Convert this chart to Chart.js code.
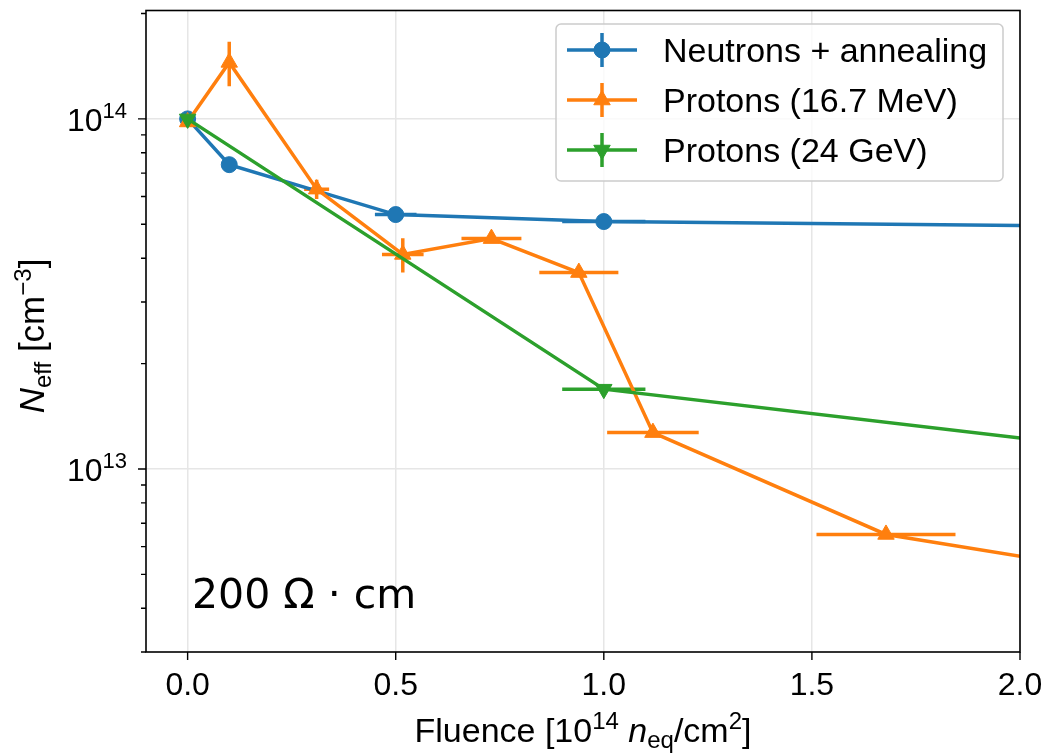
<!DOCTYPE html>
<html>
<head>
<meta charset="utf-8">
<script src="https://cdn.jsdelivr.net/npm/chart.js@4.4.1/dist/chart.umd.min.js"></script>
<style>
  html, body { margin: 0; padding: 0; background: #fff; }
  #wrap { width: 1048px; height: 753px; position: relative; }
</style>
</head>
<body>
<div id="wrap"><canvas id="chart"></canvas></div>
<script>
// values (x in 1e14 neq/cm2, y in cm^-3)
// last point of each series lies beyond x = 2.0 so the line runs out of the frame
const neutronX    = [0, 0.1, 0.5, 1.0, 4.0];
const neutronY    = [1.0e14, 7.4e13, 5.33e13, 5.09e13, 4.7e13];
const neutronXErr = [0, 0, 0.05, 0.1, 0];
const neutronYErr = [0, 0, 0, 0, 0];

const p17X    = [0, 0.1, 0.31, 0.517, 0.73, 0.94, 1.118, 1.678, 2.5];
const p17Y    = [9.8e13, 1.45e14, 6.3e13, 4.1e13, 4.55e13, 3.64e13, 1.27e13, 6.5e12, 4.5e12];
const p17XErr = [0, 0, 0.03, 0.05, 0.072, 0.095, 0.11, 0.167, 0];
const p17YErr = [0, 2.1e13, 4e12, 4.6e12, 0, 0, 0, 0, 0];

const p24X    = [0, 1.0, 3.0];
const p24Y    = [1.0e14, 1.69e13, 8.9e12];
const p24XErr = [0, 0.1, 0];
const p24YErr = [0, 0, 0];

const xTicks = [0, 0.5, 1.0, 1.5, 2.0];
const xTickLabels = ['0.0', '0.5', '1.0', '1.5', '2.0'];
const yMajor = [1e13, 1e14];
const yMajorExp = ['13', '14'];
const yMinor = [3e12, 4e12, 5e12, 6e12, 7e12, 8e12, 9e12,
                2e13, 3e13, 4e13, 5e13, 6e13, 7e13, 8e13, 9e13, 2e14];

const BLUE = '#1f77b4', ORANGE = '#ff7f0e', GREEN = '#2ca02c';
const FONT = '"Liberation Sans", Arial, sans-serif';
const GRID = '#e6e6e6';
const LW = 3.5;

function pts(xs, ys) { return xs.map((x, i) => ({ x: x, y: ys[i] })); }

const series = [
  { label: 'Neutrons + annealing', x: neutronX, y: neutronY, xe: neutronXErr, ye: neutronYErr,
    color: BLUE, style: 'circle', radius: 8, rot: 0, order: 3 },
  { label: 'Protons (16.7 MeV)', x: p17X, y: p17Y, xe: p17XErr, ye: p17YErr,
    color: ORANGE, style: 'triangle', radius: 9.5, rot: 0, order: 2 },
  { label: 'Protons (24 GeV)', x: p24X, y: p24Y, xe: p24XErr, ye: p24YErr,
    color: GREEN, style: 'triangle', radius: 9.5, rot: 180, order: 1 }
];

function rich(ctx, parts, x, y, align) {
  // parts: [text, size, italic, dy]
  let w = 0;
  parts.forEach(p => {
    ctx.font = (p[2] ? 'italic ' : '') + p[1] + 'px ' + FONT;
    w += ctx.measureText(p[0]).width;
  });
  let cx = align === 'center' ? x - w / 2 : (align === 'right' ? x - w : x);
  ctx.textAlign = 'left';
  ctx.textBaseline = 'alphabetic';
  parts.forEach(p => {
    ctx.font = (p[2] ? 'italic ' : '') + p[1] + 'px ' + FONT;
    ctx.fillText(p[0], cx, y + (p[3] || 0));
    cx += ctx.measureText(p[0]).width;
  });
}

const errorBars = {
  id: 'errorBars',
  beforeDatasetsDraw(chart) {
    const ctx = chart.ctx, a = chart.chartArea;
    const xs = chart.scales.x, ys = chart.scales.y;
    ctx.save();
    ctx.beginPath();
    ctx.rect(a.left, a.top, a.right - a.left, a.bottom - a.top);
    ctx.clip();
    ctx.lineWidth = LW;
    ctx.lineCap = 'butt';
    series.forEach(s => {
      ctx.strokeStyle = s.color;
      s.x.forEach((xv, i) => {
        const px = xs.getPixelForValue(xv), py = ys.getPixelForValue(s.y[i]);
        if (s.xe[i] > 0) {
          ctx.beginPath();
          ctx.moveTo(xs.getPixelForValue(xv - s.xe[i]), py);
          ctx.lineTo(xs.getPixelForValue(xv + s.xe[i]), py);
          ctx.stroke();
        }
        if (s.ye[i] > 0) {
          ctx.beginPath();
          ctx.moveTo(px, ys.getPixelForValue(s.y[i] - s.ye[i]));
          ctx.lineTo(px, ys.getPixelForValue(s.y[i] + s.ye[i]));
          ctx.stroke();
        }
      });
    });
    ctx.restore();
  }
};

const decorations = {
  id: 'decorations',
  afterDraw(chart) {
    const ctx = chart.ctx, a = chart.chartArea;
    const xs = chart.scales.x, ys = chart.scales.y;
    ctx.save();
    // frame
    ctx.strokeStyle = '#000';
    ctx.lineWidth = 1.6;
    ctx.strokeRect(a.left, a.top, a.right - a.left, a.bottom - a.top);

    // tick marks
    ctx.lineWidth = 1.4;
    ctx.beginPath();
    xTicks.forEach(v => {
      const px = xs.getPixelForValue(v);
      ctx.moveTo(px, a.bottom); ctx.lineTo(px, a.bottom + 8);
    });
    yMajor.forEach(v => {
      const py = ys.getPixelForValue(v);
      ctx.moveTo(a.left, py); ctx.lineTo(a.left - 8, py);
    });
    yMinor.forEach(v => {
      const py = ys.getPixelForValue(v);
      ctx.moveTo(a.left, py); ctx.lineTo(a.left - 5, py);
    });
    ctx.stroke();

    // tick labels
    ctx.fillStyle = '#000';
    ctx.font = '32px ' + FONT;
    ctx.textAlign = 'center';
    ctx.textBaseline = 'alphabetic';
    xTicks.forEach((v, i) => ctx.fillText(xTickLabels[i], xs.getPixelForValue(v), 695));
    yMajor.forEach((v, i) => {
      const py = ys.getPixelForValue(v);
      rich(ctx, [['10', 32], [yMajorExp[i], 22, false, -13]], a.left - 19, py + 12, 'right');
    });

    // axis titles
    rich(ctx, [['Fluence [10', 34], ['14', 24, false, -13], [' ', 34], ['n', 34, true],
               ['eq', 24, false, 6], ['/cm', 34], ['2', 24, false, -13], [']', 34]],
         (a.left + a.right) / 2, 742, 'center');
    ctx.save();
    ctx.translate(44, 336);
    ctx.rotate(-Math.PI / 2);
    rich(ctx, [['N', 35, true], ['eff', 24, false, 7], [' [cm', 35], ['\u22123', 24, false, -13], [']', 35]],
         0, 0, 'center');
    ctx.restore();

    // annotation
    ctx.font = '41px "DejaVu Sans", sans-serif';
    ctx.textAlign = 'left';
    ctx.fillText('200 \u03A9 \u00B7 cm', 192, 608);

    // legend
    const lx = 556, ly = 24, lw = 447, lh = 157;
    ctx.beginPath();
    ctx.roundRect(lx, ly, lw, lh, 5);
    ctx.fillStyle = 'rgba(255,255,255,0.8)';
    ctx.fill();
    ctx.strokeStyle = '#cccccc';
    ctx.lineWidth = 1.5;
    ctx.stroke();
    series.forEach((s, i) => {
      const cy = 50 + i * 50;
      ctx.strokeStyle = s.color;
      ctx.fillStyle = s.color;
      ctx.lineWidth = LW;
      ctx.beginPath();
      ctx.moveTo(567, cy); ctx.lineTo(637, cy);
      ctx.moveTo(602, cy - 17); ctx.lineTo(602, cy + 17);
      ctx.stroke();
      ctx.lineWidth = 1;
      Chart.helpers.drawPoint(ctx, { pointStyle: s.style, radius: s.radius, rotation: s.rot, borderWidth: 1 }, 602, cy);
      ctx.fillStyle = '#000';
      ctx.font = '34px ' + FONT;
      ctx.textAlign = 'left';
      ctx.textBaseline = 'alphabetic';
      ctx.fillText(s.label, 663, cy + 12);
    });
    ctx.restore();
  }
};

new Chart(document.getElementById('chart'), {
  type: 'scatter',
  data: {
    datasets: series.map(s => ({
      label: s.label,
      data: pts(s.x, s.y),
      showLine: true,
      borderColor: s.color,
      backgroundColor: s.color,
      borderWidth: LW,
      pointStyle: s.style,
      pointRadius: s.radius,
      pointRotation: s.rot,
      pointBorderWidth: 1,
      pointHoverRadius: s.radius,
      order: s.order
    }))
  },
  options: {
    responsive: true,
    maintainAspectRatio: false,
    animation: false,
    layout: { padding: { top: 9, right: 28, left: 0, bottom: 0 } },
    plugins: { legend: { display: false }, tooltip: { enabled: false } },
    scales: {
      x: {
        type: 'linear', min: -0.1, max: 2.0,
        afterBuildTicks: s => { s.ticks = xTicks.map(v => ({ value: v })); },
        afterFit: s => { s.height = 101; },
        grid: { color: GRID, lineWidth: 1.5, drawTicks: false },
        border: { display: false },
        ticks: { display: false }
      },
      y: {
        type: 'logarithmic', min: 3.0e12, max: 2.04e14,
        afterBuildTicks: s => { s.ticks = yMajor.concat(yMinor).map(v => ({ value: v })); },
        afterFit: s => { s.width = 146; },
        grid: {
          color: c => (c.tick && yMajor.includes(c.tick.value)) ? GRID : 'rgba(0,0,0,0)',
          lineWidth: 1.5, drawTicks: false
        },
        border: { display: false },
        ticks: { display: false }
      }
    }
  },
  plugins: [errorBars, decorations]
});
</script>
</body>
</html>
